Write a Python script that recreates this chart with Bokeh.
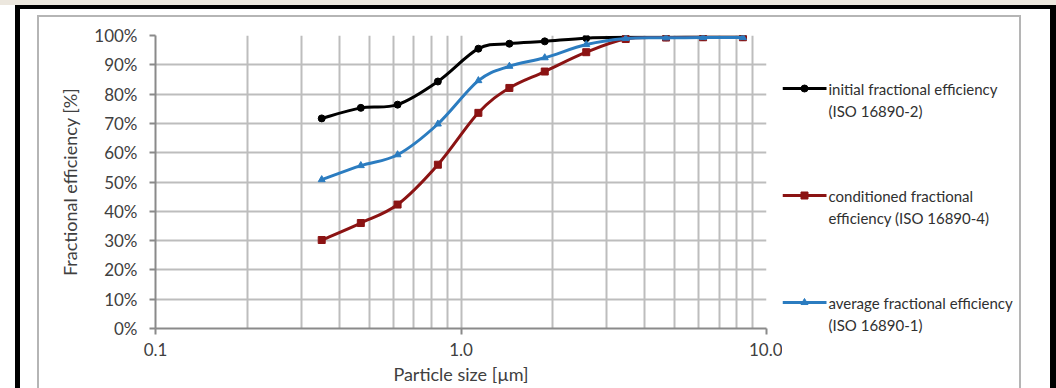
import numpy as np
from bokeh.plotting import figure
from bokeh.layouts import row, column
from bokeh.models import FixedTicker, Range1d, Div
from bokeh.core.properties import value
from bokeh.embed import file_html
from bokeh.resources import INLINE

# ---------------- data ----------------
particle_size = [0.35, 0.47, 0.62, 0.84, 1.14, 1.44, 1.88, 2.57, 3.46, 4.69, 6.2, 8.37]
initial_eff = [0.717, 0.753, 0.764, 0.843, 0.955, 0.972, 0.980, 0.991, 0.994, 0.994, 0.995, 0.995]
conditioned_eff = [0.302, 0.360, 0.423, 0.559, 0.736, 0.821, 0.877, 0.943, 0.988, 0.993, 0.994, 0.994]
average_eff = [0.508, 0.556, 0.593, 0.698, 0.846, 0.895, 0.924, 0.969, 0.990, 0.992, 0.993, 0.993]

legend_line1 = ["initial fractional efficiency", "conditioned fractional", "average fractional efficiency"]
legend_line2 = ["(ISO 16890-2)", "efficiency (ISO 16890-4)", "(ISO 16890-1)"]
series_colors = ["#000000", "#8b1313", "#2b7cc0"]
series_markers = ["circle", "square", "triangle"]

x_ticks = [0.1, 1, 10]
x_tick_labels = ["0.1", "1.0", "10.0"]
x_minor = [0.2, 0.3, 0.4, 0.5, 0.6, 0.7, 0.8, 0.9, 2, 3, 4, 5, 6, 7, 8, 9]
y_ticks = [0, 0.1, 0.2, 0.3, 0.4, 0.5, 0.6, 0.7, 0.8, 0.9, 1.0]
y_tick_labels = ["0%", "10%", "20%", "30%", "40%", "50%", "60%", "70%", "80%", "90%", "100%"]

FONT = "Lato"
TXT = "#404040"

p = figure(width=743, height=371, x_axis_type="log",
           x_range=Range1d(0.1, 10), y_range=Range1d(0, 1),
           output_backend="svg", toolbar_location=None,
           min_border_left=116, min_border_right=16,
           min_border_top=18, min_border_bottom=60)
p.frame_align = False
p.background_fill_color = "white"
p.border_fill_color = "white"
p.outline_line_color = None

# axes
p.xaxis.ticker = FixedTicker(ticks=x_ticks, minor_ticks=x_minor)
p.xaxis.major_label_overrides = {t: l for t, l in zip(x_ticks, x_tick_labels)}
p.yaxis.ticker = FixedTicker(ticks=y_ticks)
p.yaxis.major_label_overrides = {t: l for t, l in zip(y_ticks, y_tick_labels)}
p.xaxis.axis_label = "Particle size [µm]"
p.yaxis.axis_label = "Fractional efficiency [%]"
for ax in (p.xaxis[0], p.yaxis[0]):
    ax.axis_line_color = "#8a8a8a"
    ax.axis_line_width = 2
    ax.major_tick_line_color = "#8a8a8a"
    ax.major_tick_line_width = 2
    ax.major_tick_out = 6
    ax.major_tick_in = 0
    ax.minor_tick_line_color = None
    ax.major_label_text_font = FONT
    ax.major_label_text_font_size = "17px"
    ax.major_label_text_color = TXT
    ax.axis_label_text_font = FONT
    ax.axis_label_text_font_size = "18px"
    ax.axis_label_text_font_style = "normal"
    ax.axis_label_text_color = TXT
p.yaxis.major_label_standoff = 12
p.yaxis.axis_label_standoff = 10
p.xaxis.major_label_standoff = 8
p.xaxis.axis_label_standoff = 4

p.xgrid.grid_line_color = "#bdbdbd"
p.xgrid.grid_line_width = 2
p.xgrid.minor_grid_line_color = "#bdbdbd"
p.xgrid.minor_grid_line_width = 2
p.ygrid.grid_line_color = "#bdbdbd"
p.ygrid.grid_line_width = 2


def smooth_segments(xs, ys):
    lx = np.log10(np.asarray(xs, float))
    y = np.asarray(ys, float)
    n = len(lx)
    seg = dict(x0=[], y0=[], x1=[], y1=[], cx0=[], cy0=[], cx1=[], cy1=[])
    for i in range(n - 1):
        a = max(i - 1, 0)
        b = min(i + 2, n - 1)
        seg["x0"].append(10 ** lx[i]); seg["y0"].append(y[i])
        seg["x1"].append(10 ** lx[i + 1]); seg["y1"].append(y[i + 1])
        seg["cx0"].append(10 ** (lx[i] + (lx[i + 1] - lx[a]) / 6))
        seg["cy0"].append(y[i] + (y[i + 1] - y[a]) / 6)
        seg["cx1"].append(10 ** (lx[i + 1] - (lx[b] - lx[i]) / 6))
        seg["cy1"].append(y[i + 1] - (y[b] - y[i]) / 6)
    return seg


for vals, col, mk in zip([initial_eff, conditioned_eff, average_eff],
                         series_colors, series_markers):
    s = smooth_segments(particle_size, vals)
    p.bezier(x0=s["x0"], y0=s["y0"], x1=s["x1"], y1=s["y1"],
             cx0=s["cx0"], cy0=s["cy0"], cx1=s["cx1"], cy1=s["cy1"],
             line_color=col, line_width=3)
    p.scatter(particle_size, vals, marker=mk, size=7, fill_color=col, line_color=col)

# ---------------- legend panel (pixel-space plot to the right) ----------------
# frame covers the whole panel, which spans page y = 17 .. 388
LG_W, LG_H = 237, 371
LG_TOP_PX, LG_BOTTOM_PX = 17, 388
lg = figure(width=LG_W, height=LG_H, title=None, output_backend="svg", toolbar_location=None,
            x_axis_location=None, y_axis_location=None,
            x_range=Range1d(0, LG_W), y_range=Range1d(LG_BOTTOM_PX, LG_TOP_PX),
            min_border=0, min_border_left=0, min_border_right=0,
            min_border_top=0, min_border_bottom=0)
lg.frame_align = False
lg.outline_line_color = None
lg.grid.visible = False
lg.background_fill_color = "white"
lg.border_fill_color = "white"

SW = 44          # swatch length
FIRST = 88       # first entry row (page px)
PITCH = 107      # distance between entries
LINE_GAP = 22    # distance between the two text lines of an entry
for i, (t1, t2, col, mk) in enumerate(zip(legend_line1, legend_line2, series_colors, series_markers)):
    yc = FIRST + i * PITCH
    lg.line([0, SW], [yc, yc], line_color=col, line_width=3)
    lg.scatter([SW / 2], [yc], marker=mk, size=7, fill_color=col, line_color=col)
    lg.text([SW + 2, SW + 2], [yc, yc + LINE_GAP], text=[t1, t2],
            text_font=value(FONT), text_font_size="15px", text_color="#303030",
            text_baseline="middle", text_align="left")


# ---------------- page frame (plain coloured blocks) ----------------
def blk(w, h, color):
    return Div(width=w, height=h, margin=0, styles={"background-color": color})


GRAY = "#b5b5b5"
top_strip = blk(1056, 5, "#ece7de")
top_line = row(blk(15, 4, "white"), blk(1041, 4, "black"), spacing=0)
inner = column(blk(984, 6, "white"), blk(984, 2, GRAY),
               row(blk(2, 371, GRAY), p, lg, blk(2, 371, GRAY), spacing=0), spacing=0)
main = row(blk(15, 379, "white"), blk(5, 379, "black"), blk(17, 379, "white"),
           inner, blk(29, 379, "white"), blk(6, 379, "black"), spacing=0)
layout = column(top_strip, top_line, main, spacing=0)

open("out.html", "w").write(file_html(layout, INLINE))
